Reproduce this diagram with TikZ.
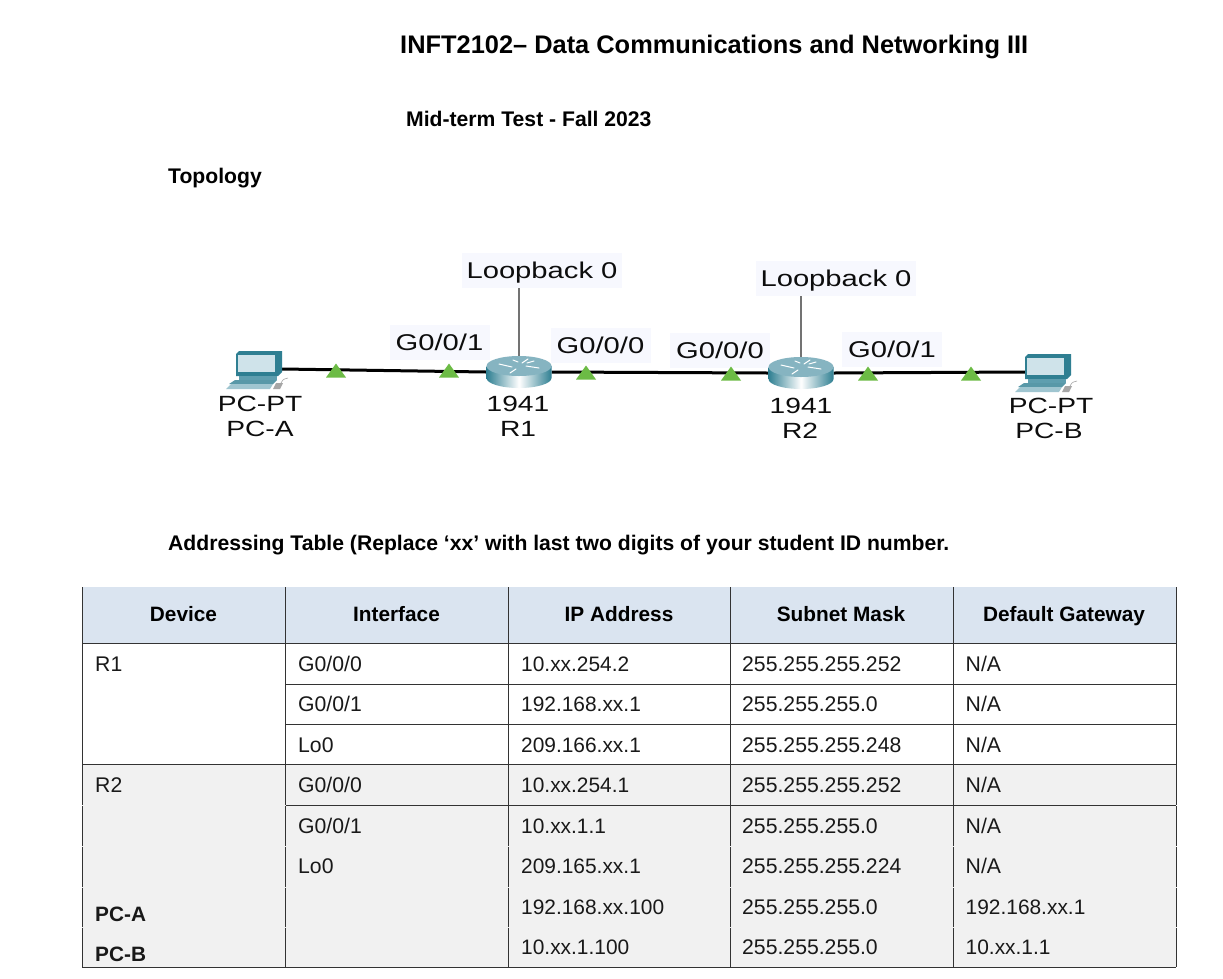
\documentclass[tikz,border=0pt]{standalone}
\usepackage{fontspec}
\setmainfont{Liberation Sans}
\newfontfamily\netfont[FakeStretch=1.28]{Liberation Sans}
\definecolor{headfill}{HTML}{DAE4F0}
\definecolor{greyfill}{HTML}{F1F1F1}
\definecolor{labelbg}{HTML}{F7F8FE}
\definecolor{portgreen}{HTML}{6CBB45}
\definecolor{tealdark}{HTML}{2F7F92}
\definecolor{tealmid}{HTML}{5E9EAF}
\definecolor{tealtop}{HTML}{86B4C1}
\definecolor{screenc}{HTML}{CFE3EA}
\definecolor{gridc}{HTML}{333333}
\tikzset{
  x=1pt,y=-1pt,
  celltext/.style={anchor=base west,inner sep=0pt,font=\fontsize{21.2}{21}\selectfont,text=black!90},
  iptext/.style={celltext,font=\fontsize{20.9}{21}\selectfont},
  cellbold/.style={celltext,font=\fontsize{20.8}{21}\selectfont\bfseries},
  headtext/.style={anchor=base,inner sep=0pt,font=\fontsize{20.8}{21}\selectfont\bfseries},
  titletext/.style={anchor=base west,inner sep=0pt,font=\fontsize{21.15}{21}\selectfont\bfseries},
  netlabel/.style={anchor=base,inner sep=0pt,font=\netfont\fontsize{22}{22}\selectfont,text=black!95},
  portlabel/.style={netlabel,font=\netfont\fontsize{22.8}{22}\selectfont,fill=labelbg,minimum width=100pt,text height=25pt,text depth=10pt},
  loopbacklabel/.style={netlabel,font=\netfont\fontsize{22.8}{22}\selectfont,fill=labelbg,minimum width=160pt,text height=25pt,text depth=10pt},
  devicebox/.style={inner sep=0pt,minimum width=46pt,minimum height=25pt},
  routerbox/.style={inner sep=0pt,minimum width=65pt,minimum height=32pt},
  cable/.style={line width=3pt,black},
  stem/.style={line width=1.3pt,black!55},
  gridline/.style={line width=1pt,gridc},
  porttri/.pic={\fill[portgreen] (-10,6.5) -- (0,-7.5) -- (10,6.5) -- cycle;},
  routericon/.pic={
    \shade[left color=tealdark,right color=tealdark,middle color=white]
      (-32.5,-6) -- (-32.5,6) arc[start angle=180,end angle=0,x radius=32.5,y radius=10] -- (32.5,-6) -- cycle;
    \fill[tealtop] (0,-6) ellipse[x radius=32.5,y radius=10];
    \draw[white,line width=1pt,line cap=round] (-20,-8) -- (-7,-5) (20,-4) -- (7,-6) (-9,1) -- (-3,-3) (9,-13) -- (3,-9) (-6,-12) -- (-1,-10) (15,-11)--(8,-9);
  },
  pcicon/.pic={
    % monitor
    \fill[tealdark] (-23,-15) -- (-20,-18) -- (23,-18) -- (23,3) -- (19,7) -- (-23,7) -- cycle;
    \fill[screenc] (-21,-14) rectangle (16,3);
    \fill[tealmid] (-20,7) rectangle (18,11);
    \fill[tealdark!80] (-30,15) -- (-24,11) -- (18,11) -- (14,15) -- cycle;
    \fill[screenc!70!tealdark] (-33,20) -- (-28,15) -- (14,15) -- (11,20) -- cycle;
    \fill[black!35] (17,14) -- (24,14) -- (21,20) -- (14,20) -- cycle;
    \draw[black!35,line width=.6pt] (22,14) .. controls (24,9) and (27,10) .. (29,9);
  }
}
\begin{document}
\begin{tikzpicture}
\useasboundingbox (0,0) rectangle (1223,978);
\fill[white] (0,0) rectangle (1223,978);

% titles
\node[titletext,font=\fontsize{25.4}{26}\selectfont\bfseries] (title) at (400,53) {INFT2102– Data Communications and Networking III};
\node[titletext] (midterm) at (406,126.5) {Mid-term Test - Fall 2023};
\node[titletext] (topology) at (168,183) {Topology};
\node[titletext] (addr) at (168,550) {Addressing Table (Replace ‘xx’ with last two digits of your student ID number.};

% topology labels
\node[loopbacklabel] (lb1) at (542,278) {Loopback 0};
\node[loopbacklabel] (lb2) at (836,286) {Loopback 0};
\node[portlabel] (p1) at (439.5,350) {G0/0/1};
\node[portlabel] (p2) at (600.5,353) {G0/0/0};
\node[portlabel] (p3) at (720,358) {G0/0/0};
\node[portlabel] (p4) at (892,357) {G0/0/1};

% devices
\node[devicebox] (pca) at (259,369) {};
\node[routerbox] (r1) at (519,372) {};
\node[routerbox] (r2) at (801,373) {};
\node[devicebox] (pcb) at (1048,372) {};

\draw[stem] (lb1.south -| r1.center) -- (r1.center);
\draw[stem] (lb2.south -| r2.center) -- (r2.center);
\draw[cable] (pca.east) -- (r1.west);
\draw[cable] (r1.east) -- (r2.west);
\draw[cable] (r2.east) -- (pcb.west);

\pic at (336,371) {porttri};
\pic at (449,371) {porttri};
\pic at (586,373) {porttri};
\pic at (731,374) {porttri};
\pic at (868,374) {porttri};
\pic at (971,374) {porttri};

\pic at (r1.center) {routericon};
\pic at (r2.center) {routericon};
\pic at (pca.center) {pcicon};
\pic at (pcb.center) {pcicon};

\node[netlabel] (pca1) at (260,411) {PC-PT};
\node[netlabel] (pca2) at (260,436) {PC-A};
\node[netlabel] (r1a) at (518,411) {1941};
\node[netlabel] (r1b) at (518,436) {R1};
\node[netlabel] (r2a) at (801,413) {1941};
\node[netlabel] (r2b) at (800,438) {R2};
\node[netlabel] (pcb1) at (1051,413) {PC-PT};
\node[netlabel] (pcb2) at (1049,438) {PC-B};

% table fills
\fill[headfill] (82,587) rectangle (1176,643);
\fill[greyfill] (82,764) rectangle (1176,967);

% table rules
\foreach \lx in {82,285.5,508.5,730,953,1176}{
  \draw[gridline] (\lx,587) -- (\lx,805);
  \draw[gridline] (\lx,806) -- (\lx,845.5);
  \draw[gridline] (\lx,846.5) -- (\lx,886.5);
  \draw[gridline] (\lx,887.5) -- (\lx,926.5);
  \draw[gridline] (\lx,927.5) -- (\lx,967);
}
\draw[gridline] (82,643) -- (1176,643);
\draw[gridline] (285.5,684) -- (1176,684);
\draw[gridline] (285.5,724) -- (1176,724);
\draw[gridline] (82,764) -- (1176,764);
\draw[gridline] (285.5,805) -- (1176,805);
\draw[gridline] (82,967) -- (1176,967);

% header
\node[headtext] (h1) at (183.5,621) {Device};
\node[headtext] (h2) at (396.5,621) {Interface};
\node[headtext] (h3) at (619,621) {IP Address};
\node[headtext] (h4) at (841,621) {Subnet Mask};
\node[headtext] (h5) at (1064,621) {Default Gateway};

% device column
\node[celltext] (d1) at (95,671) {R1};
\node[celltext] (d2) at (95,792.5) {R2};
\node[cellbold] (d3) at (95,921) {PC-A};
\node[cellbold] (d4) at (95,961) {PC-B};

% interface column
\node[celltext] (i1) at (298,671) {G0/0/0};
\node[celltext] (i2) at (298,711) {G0/0/1};
\node[celltext] (i3) at (298,752) {Lo0};
\node[celltext] (i4) at (298,792.5) {G0/0/0};
\node[celltext] (i5) at (298,833) {G0/0/1};
\node[celltext] (i6) at (298,873) {Lo0};

% IP column
\node[iptext] (a1) at (521,671) {10.xx.254.2};
\node[iptext] (a2) at (521,711) {192.168.xx.1};
\node[iptext] (a3) at (521,752) {209.166.xx.1};
\node[iptext] (a4) at (521,792.5) {10.xx.254.1};
\node[iptext] (a5) at (521,833) {10.xx.1.1};
\node[iptext] (a6) at (521,873) {209.165.xx.1};
\node[iptext] (a7) at (521,914) {192.168.xx.100};
\node[iptext] (a8) at (521,954) {10.xx.1.100};

% mask column
\node[celltext] (m1) at (742,671) {255.255.255.252};
\node[celltext] (m2) at (742,711) {255.255.255.0};
\node[celltext] (m3) at (742,752) {255.255.255.248};
\node[celltext] (m4) at (742,792.5) {255.255.255.252};
\node[celltext] (m5) at (742,833) {255.255.255.0};
\node[celltext] (m6) at (742,873) {255.255.255.224};
\node[celltext] (m7) at (742,914) {255.255.255.0};
\node[celltext] (m8) at (742,954) {255.255.255.0};

% gateway column
\node[celltext] (g1) at (965.5,671) {N/A};
\node[celltext] (g2) at (965.5,711) {N/A};
\node[celltext] (g3) at (965.5,752) {N/A};
\node[celltext] (g4) at (965.5,792.5) {N/A};
\node[celltext] (g5) at (965.5,833) {N/A};
\node[celltext] (g6) at (965.5,873) {N/A};
\node[iptext] (g7) at (965.5,914) {192.168.xx.1};
\node[iptext] (g8) at (965.5,954) {10.xx.1.1};
\end{tikzpicture}
\end{document}
